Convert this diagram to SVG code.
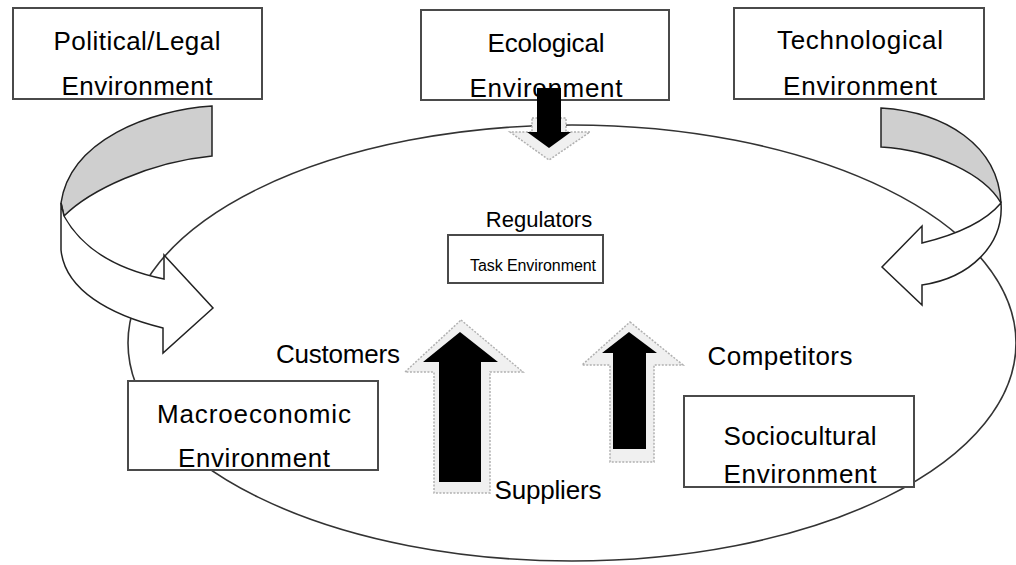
<svg xmlns="http://www.w3.org/2000/svg" width="1016" height="565" viewBox="0 0 1016 565">
<style>
.box{fill:#fff;stroke:#4a4a4a;stroke-width:2}
.t{font-family:"Liberation Sans",Arial,sans-serif;font-size:26px;fill:#000;text-anchor:middle}
.s{font-size:22px}
.xs{font-size:16px}
.ell{fill:none;stroke:#333;stroke-width:1.6}
.rib{fill:#fff;stroke:#222;stroke-width:1.5;stroke-linejoin:miter}
.ribg{fill:#cfcfcf;stroke:#222;stroke-width:1.5}
.blk{fill:#000}
.shd{fill:#f0f0f0;stroke:#b0b0b0;stroke-width:1.5;stroke-dasharray:2 1.5}
</style>
<g id="environment-ellipse">
<ellipse class="ell" cx="572" cy="343" rx="444" ry="218"/>
</g>
<g id="political-legal">
<rect class="box" x="13" y="8" width="249" height="91"/>
<text class="t" x="137" y="50" textLength="167">Political/Legal</text>
<text class="t" x="137" y="95" textLength="151">Environment</text>
</g>
<g id="ecological">
<rect class="box" x="421" y="10" width="248" height="90"/>
<text class="t" x="546" y="52" textLength="117">Ecological</text>
<text class="t" x="546" y="97" textLength="153">Environment</text>
</g>
<g id="technological">
<rect class="box" x="734" y="8" width="250" height="91"/>
<text class="t" x="860" y="49" textLength="166">Technological</text>
<text class="t" x="860" y="95" textLength="154">Environment</text>
</g>
<g id="macroeconomic">
<rect class="box" x="128" y="381" width="250" height="89"/>
<text class="t" x="254" y="423" textLength="194">Macroeconomic</text>
<text class="t" x="254" y="467" textLength="152">Environment</text>
</g>
<g id="sociocultural">
<rect class="box" x="684" y="396" width="230" height="91"/>
<text class="t" x="800" y="445" textLength="153">Sociocultural</text>
<text class="t" x="800" y="483" textLength="153">Environment</text>
</g>
<g id="task-environment">
<text class="t s" x="539" y="227">Regulators</text>
<rect class="box" x="448" y="235" width="155" height="48"/>
<text class="t xs" x="533" y="271" textLength="126">Task Environment</text>
</g>
<g id="labels">
<text class="t" x="338" y="363" textLength="124">Customers</text>
<text class="t" x="780" y="365" textLength="145">Competitors</text>
<text class="t" x="548" y="499" textLength="107">Suppliers</text>
</g>
<g id="connectors">
<g id="arrow-political">
<path class="ribg" d="M212,106 C150,110 70,140 61,203 L64,216 C90,190 150,162 212,156 Z"/>
<path class="rib" d="M61,203 L61,250 C65,290 110,315 163,328 L163,353 L213,308 L164,255 L164,279 C110,268 80,245 64,216 Z"/>
</g>
<g id="arrow-technological">
<path class="ribg" d="M881,108 C945,112 998,145 1001,203 C985,175 935,150 881,147 Z"/>
<path class="rib" d="M1001,203 C1004,245 970,278 922,285 L922,305 L882,267 L922,226 L922,243 C955,235 985,222 1001,203 Z"/>
</g>
<g id="arrow-ecological">
<polygon class="shd" points="532,118 566,118 566,132 590,132 549,160 510,132 532,132"/>
<polygon class="blk" points="537,88 561,88 561,132 571,132 549,148 527,132 537,132"/>
</g>
<g id="arrow-customers">
<polygon class="shd" points="461,320 523,372 490,372 490,493 434,493 434,372 405,372"/>
<polygon class="blk" points="460,332 498,362 481,362 481,482 439,482 439,362 423,362"/>
</g>
<g id="arrow-competitors">
<polygon class="shd" points="630,322 683,365 654,365 654,462 610,462 610,365 582,365"/>
<polygon class="blk" points="629,332 657,353 646,353 646,449 613,449 613,353 602,353"/>
</g>
</g>
</svg>
